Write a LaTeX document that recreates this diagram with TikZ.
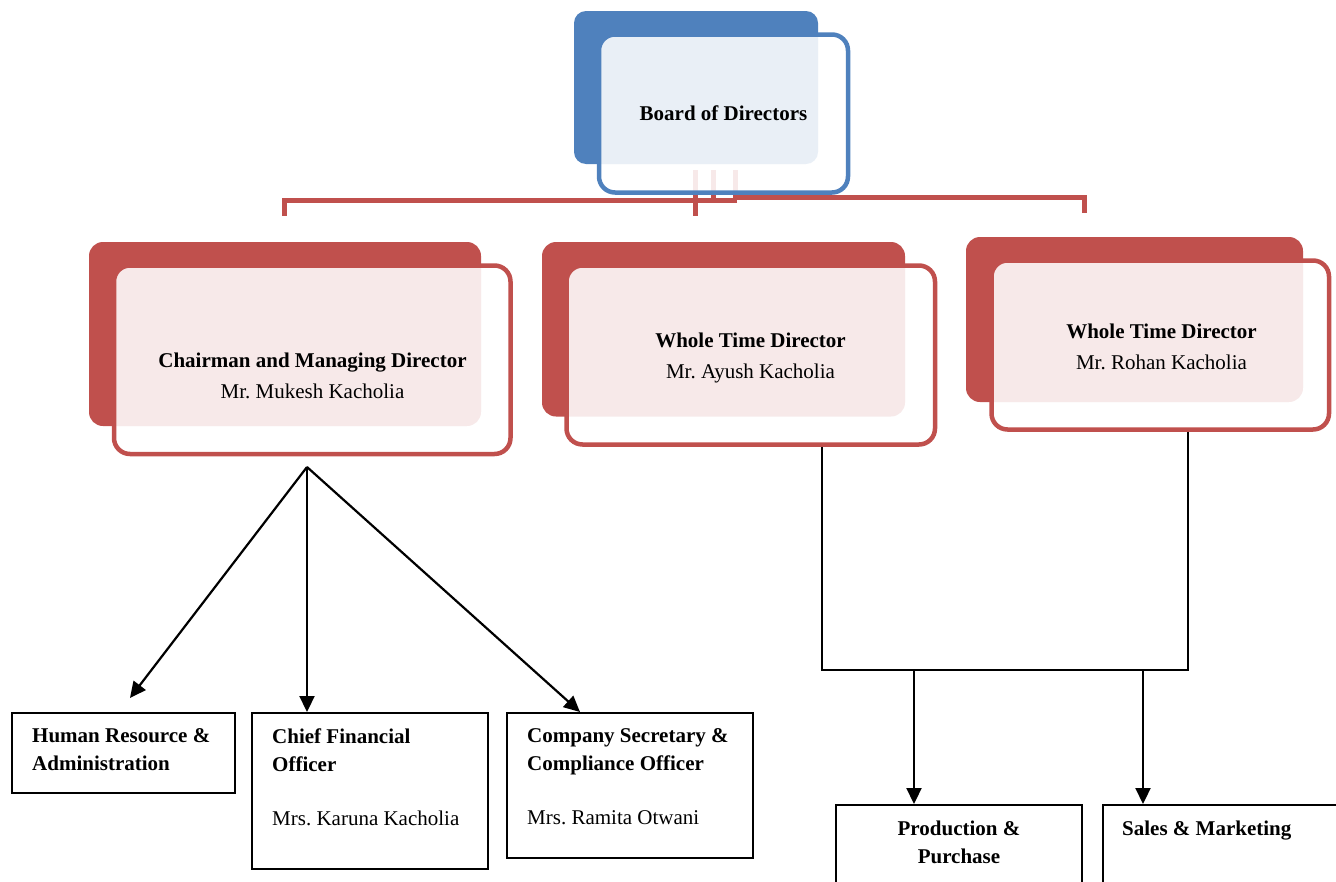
\documentclass[tikz,border=0pt]{standalone}
\usepackage{fontspec}
\setmainfont{Liberation Serif}
\usetikzlibrary{arrows.meta}
\definecolor{boxred}{HTML}{C0504D}
\definecolor{boxblue}{HTML}{4F81BD}

\begin{document}
\frenchspacing
\begin{tikzpicture}[x=1pt,y=-1pt,
  card/.style={draw=#1, line width=4.5pt, fill=white, fill opacity=0.88,
    text opacity=1, rounded corners=16pt, inner sep=0pt},
  redbus/.style={draw=boxred, line width=5pt},
  wire/.style={draw, line width=2.2pt},
  arrowwire/.style={wire, -{Triangle[length=16pt,width=15pt]}},
  unitbox/.style={draw, line width=2pt, inner sep=0pt, anchor=north west},
  headtext/.style={align=center, inner sep=0pt, font=\fontsize{21}{31}\selectfont},
  unittext/.style={align=left, inner sep=0pt, anchor=north west,
    font=\fontsize{21}{28}\selectfont}]
\clip (0,0) rectangle (1336,881); % page size

% board
\fill[boxblue, rounded corners=12pt] (574,11) rectangle (818,164);
\draw[redbus] (695.5,170) -- (695.5,216) coordinate (drop2);
\draw[redbus] (713.5,170) -- (713.5,200.5);
\draw[redbus]
     (735.5,170)
  -- (735.5,197.5)
  -- (1084.5,197.5)
  -- (1084.5,213) coordinate (drop3);
\draw[redbus]
     (737,200.5)
  -- (284.5,200.5)
  -- (284.5,216) coordinate (drop1);
\node[card=boxblue, minimum width=249, minimum height=158,
  font=\fontsize{21}{31}\selectfont] (board) at (723.5,113.5)
  {\textbf{Board of Directors}};

% directors
\fill[boxred, rounded corners=14pt] (89,242) rectangle (481,426);
\node[card=boxred, minimum width=396.5, minimum height=188.5] (mukesh) at (312.25,359.75) {};
\node[headtext] (mukeshtext) at (312.5,375.75)
  {\textbf{Chairman and Managing Director}\\Mr. Mukesh Kacholia};

\fill[boxred, rounded corners=14pt] (542,242) rectangle (905,416.5);
\node[card=boxred, minimum width=368.5, minimum height=179] (ayush) at (750.75,355) {};
\node[headtext] (ayushtext) at (750.5,357.5)
  {\textbf{Whole Time Director}\\Mr. Ayush Kacholia};

\fill[boxred, rounded corners=14pt] (966,237) rectangle (1303,402);
\node[card=boxred, minimum width=337.5, minimum height=169] (rohan) at (1160.25,345) {};
\node[headtext] (rohantext) at (1161.5,346.5)
  {\textbf{Whole Time Director}\\Mr. Rohan Kacholia};

% units
\node[unitbox, minimum width=223, minimum height=80] (hr) at (11,712) {};
\node[unittext] at ([shift={(21,16.5)}]hr.north west)
  {\textbf{Human Resource \&}\\\textbf{Administration}};
\node[unitbox, minimum width=236, minimum height=156] (cfo) at (251,712) {};
\node[unittext] at ([shift={(21,16.5)}]cfo.north west)
  {\textbf{Chief Financial}\\\textbf{Officer}\\[26pt]Mrs. Karuna Kacholia};
\node[unitbox, minimum width=246, minimum height=145] (cs) at (506,712) {};
\node[unittext] at ([shift={(21,16.5)}]cs.north west)
  {\textbf{Company Secretary \&}\\\textbf{Compliance Officer}\\[26pt]Mrs. Ramita Otwani};
\node[unitbox, minimum width=246, minimum height=120] (prod) at (835,804) {};
\node[unittext, align=center, anchor=north] at ([yshift=-16.5pt]prod.north)
  {\textbf{Production \&}\\\textbf{Purchase}};
\node[unitbox, minimum width=260, minimum height=120] (sales) at (1102,804) {};
\node[unittext] at ([shift={(20,16.5)}]sales.north west)
  {\textbf{Sales \& Marketing}};

% reporting lines
\coordinate (apex) at (307,467);
\draw[arrowwire] (apex) -- ([shift={(119,-14)}]hr.north west);
\draw[arrowwire] (apex) -- (apex |- cfo.north);
\draw[arrowwire] (apex) -- ([xshift=74pt]cs.north west);

\coordinate (jl) at (822,670);
\coordinate (jr) at (1188,670);
\draw[wire] (ayush.south -| jl) -- (jl) -- (jr) -- (rohan.south -| jr);
\coordinate (jp) at (914,670);
\coordinate (js) at (1143,670);
\draw[arrowwire] (jp) -- (jp |- prod.north);
\draw[arrowwire] (js) -- (js |- sales.north);
\end{tikzpicture}
\end{document}
